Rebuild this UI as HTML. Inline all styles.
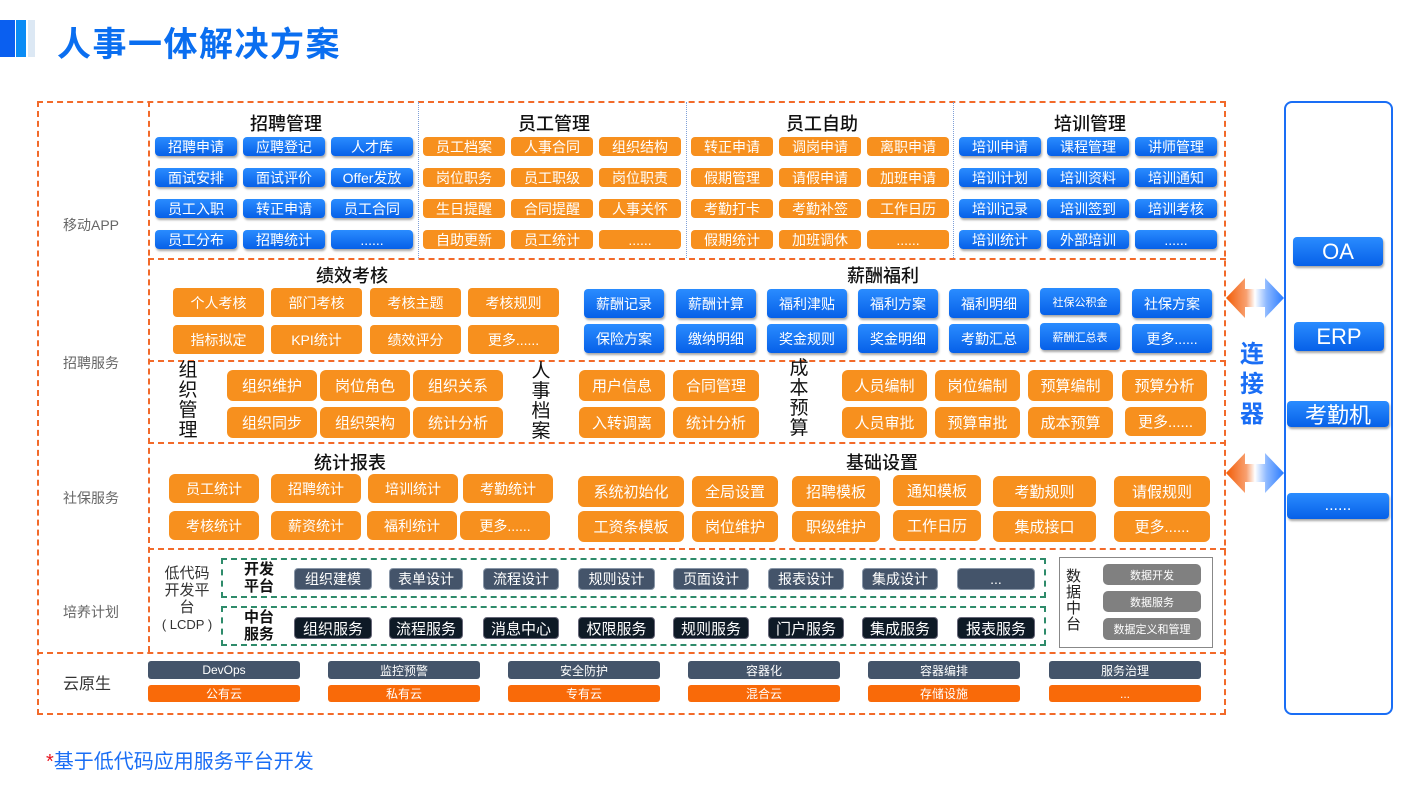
<!DOCTYPE html>
<html><head><meta charset="utf-8"><style>
*{margin:0;padding:0;box-sizing:border-box}
body{width:1420px;height:790px;background:#fff;position:relative;overflow:hidden;font-family:"Liberation Sans","Noto Sans CJK SC",sans-serif}
.a{position:absolute}
.b{position:absolute;display:flex;align-items:center;justify-content:center;color:#fff;white-space:nowrap;border-radius:4px}
.bl{background:linear-gradient(#2a8cff,#0660e8);box-shadow:1px 2px 2px rgba(0,0,0,.35);font-size:14px}
.or{background:#f7901e;font-size:14px}
.dk{background:#44546a;font-size:14px;border:1px solid #8a97a8}
.bk{background:#0e1a26;font-size:15px;border:1px solid #667}
.gr{background:#808080;font-size:11px;border-radius:5px}
.cd{background:#44546a;font-size:12px;border-radius:3px}
.co{background:#f96a09;font-size:12px;border-radius:3px}
.t{position:absolute;font-size:18px;color:#111;white-space:nowrap;transform:translateX(-50%);font-weight:500}
.lab{position:absolute;font-size:14px;color:#666;white-space:nowrap}
.v{position:absolute;font-size:19px;color:#111;line-height:20px;width:22px;text-align:center}
.hd{position:absolute;border-top:2px dashed #f26a2a}
.vd{position:absolute;border-left:2px dashed #f26a2a}
.bd{position:absolute;border-left:1.5px dotted #7fa0d8}
</style></head><body>
<!-- title -->
<div class="a" style="left:0;top:20px;width:15px;height:37px;background:#0a5ff0"></div>
<div class="a" style="left:16px;top:20px;width:10px;height:37px;background:#0a8cf5"></div>
<div class="a" style="left:28px;top:20px;width:7px;height:37px;background:#dce8f4"></div>
<div class="a" style="left:57px;top:17px;font-size:34px;font-weight:bold;color:#0a6ef0;letter-spacing:1.5px">人事一体解决方案</div>

<!-- outer frame -->
<div class="a" style="left:37px;top:101px;width:1189px;height:614px;border:2px dashed #f26a2a"></div>
<div class="vd" style="left:148px;top:101px;height:551px"></div>
<div class="hd" style="left:148px;top:258px;width:1078px"></div>
<div class="hd" style="left:148px;top:360px;width:1078px"></div>
<div class="hd" style="left:148px;top:442px;width:1078px"></div>
<div class="hd" style="left:148px;top:548px;width:1078px"></div>
<div class="hd" style="left:37px;top:652px;width:1189px"></div>
<div class="bd" style="left:418px;top:102px;height:156px"></div>
<div class="bd" style="left:686px;top:102px;height:156px"></div>
<div class="bd" style="left:953px;top:102px;height:156px"></div>

<div class="lab" style="left:63px;top:215px">移动APP</div>
<div class="lab" style="left:63px;top:353px">招聘服务</div>
<div class="lab" style="left:63px;top:488px">社保服务</div>
<div class="lab" style="left:63px;top:602px">培养计划</div>
<div class="lab" style="left:63px;top:670px;font-size:16px;color:#333">云原生</div>

<!-- top section -->
<div class="t" style="left:286px;top:110px">招聘管理</div>
<div class="t" style="left:554px;top:110px">员工管理</div>
<div class="t" style="left:822px;top:110px">员工自助</div>
<div class="t" style="left:1090px;top:110px">培训管理</div>

<div class="b bl" style="left:155px;top:137px;width:82px;height:19px">招聘申请</div>
<div class="b bl" style="left:243px;top:137px;width:82px;height:19px">应聘登记</div>
<div class="b bl" style="left:331px;top:137px;width:82px;height:19px">人才库</div>
<div class="b bl" style="left:155px;top:168px;width:82px;height:19px">面试安排</div>
<div class="b bl" style="left:243px;top:168px;width:82px;height:19px">面试评价</div>
<div class="b bl" style="left:331px;top:168px;width:82px;height:19px">Offer发放</div>
<div class="b bl" style="left:155px;top:199px;width:82px;height:19px">员工入职</div>
<div class="b bl" style="left:243px;top:199px;width:82px;height:19px">转正申请</div>
<div class="b bl" style="left:331px;top:199px;width:82px;height:19px">员工合同</div>
<div class="b bl" style="left:155px;top:230px;width:82px;height:19px">员工分布</div>
<div class="b bl" style="left:243px;top:230px;width:82px;height:19px">招聘统计</div>
<div class="b bl" style="left:331px;top:230px;width:82px;height:19px">......</div>

<div class="b or" style="left:423px;top:137px;width:82px;height:19px">员工档案</div>
<div class="b or" style="left:511px;top:137px;width:82px;height:19px">人事合同</div>
<div class="b or" style="left:599px;top:137px;width:82px;height:19px">组织结构</div>
<div class="b or" style="left:423px;top:168px;width:82px;height:19px">岗位职务</div>
<div class="b or" style="left:511px;top:168px;width:82px;height:19px">员工职级</div>
<div class="b or" style="left:599px;top:168px;width:82px;height:19px">岗位职责</div>
<div class="b or" style="left:423px;top:199px;width:82px;height:19px">生日提醒</div>
<div class="b or" style="left:511px;top:199px;width:82px;height:19px">合同提醒</div>
<div class="b or" style="left:599px;top:199px;width:82px;height:19px">人事关怀</div>
<div class="b or" style="left:423px;top:230px;width:82px;height:19px">自助更新</div>
<div class="b or" style="left:511px;top:230px;width:82px;height:19px">员工统计</div>
<div class="b or" style="left:599px;top:230px;width:82px;height:19px">......</div>

<div class="b or" style="left:691px;top:137px;width:82px;height:19px">转正申请</div>
<div class="b or" style="left:779px;top:137px;width:82px;height:19px">调岗申请</div>
<div class="b or" style="left:867px;top:137px;width:82px;height:19px">离职申请</div>
<div class="b or" style="left:691px;top:168px;width:82px;height:19px">假期管理</div>
<div class="b or" style="left:779px;top:168px;width:82px;height:19px">请假申请</div>
<div class="b or" style="left:867px;top:168px;width:82px;height:19px">加班申请</div>
<div class="b or" style="left:691px;top:199px;width:82px;height:19px">考勤打卡</div>
<div class="b or" style="left:779px;top:199px;width:82px;height:19px">考勤补签</div>
<div class="b or" style="left:867px;top:199px;width:82px;height:19px">工作日历</div>
<div class="b or" style="left:691px;top:230px;width:82px;height:19px">假期统计</div>
<div class="b or" style="left:779px;top:230px;width:82px;height:19px">加班调休</div>
<div class="b or" style="left:867px;top:230px;width:82px;height:19px">......</div>

<div class="b bl" style="left:959px;top:137px;width:82px;height:19px">培训申请</div>
<div class="b bl" style="left:1047px;top:137px;width:82px;height:19px">课程管理</div>
<div class="b bl" style="left:1135px;top:137px;width:82px;height:19px">讲师管理</div>
<div class="b bl" style="left:959px;top:168px;width:82px;height:19px">培训计划</div>
<div class="b bl" style="left:1047px;top:168px;width:82px;height:19px">培训资料</div>
<div class="b bl" style="left:1135px;top:168px;width:82px;height:19px">培训通知</div>
<div class="b bl" style="left:959px;top:199px;width:82px;height:19px">培训记录</div>
<div class="b bl" style="left:1047px;top:199px;width:82px;height:19px">培训签到</div>
<div class="b bl" style="left:1135px;top:199px;width:82px;height:19px">培训考核</div>
<div class="b bl" style="left:959px;top:230px;width:82px;height:19px">培训统计</div>
<div class="b bl" style="left:1047px;top:230px;width:82px;height:19px">外部培训</div>
<div class="b bl" style="left:1135px;top:230px;width:82px;height:19px">......</div>

<!-- row 2 -->
<div class="t" style="left:352px;top:262px">绩效考核</div>
<div class="b or" style="left:173px;top:288px;width:91px;height:29px">个人考核</div>
<div class="b or" style="left:271px;top:288px;width:91px;height:29px">部门考核</div>
<div class="b or" style="left:370px;top:288px;width:91px;height:29px">考核主题</div>
<div class="b or" style="left:468px;top:288px;width:91px;height:29px">考核规则</div>
<div class="b or" style="left:173px;top:325px;width:91px;height:29px">指标拟定</div>
<div class="b or" style="left:271px;top:325px;width:91px;height:29px">KPI统计</div>
<div class="b or" style="left:370px;top:325px;width:91px;height:29px">绩效评分</div>
<div class="b or" style="left:468px;top:325px;width:91px;height:29px">更多......</div>

<div class="t" style="left:883px;top:262px">薪酬福利</div>
<div class="b bl" style="left:584px;top:289px;width:80px;height:29px">薪酬记录</div>
<div class="b bl" style="left:676px;top:289px;width:80px;height:29px">薪酬计算</div>
<div class="b bl" style="left:767px;top:289px;width:80px;height:29px">福利津贴</div>
<div class="b bl" style="left:858px;top:289px;width:80px;height:29px">福利方案</div>
<div class="b bl" style="left:949px;top:289px;width:80px;height:29px">福利明细</div>
<div class="b bl" style="left:1040px;top:288px;width:80px;height:27px;font-size:11px">社保公积金</div>
<div class="b bl" style="left:1132px;top:289px;width:80px;height:29px">社保方案</div>
<div class="b bl" style="left:584px;top:324px;width:80px;height:29px">保险方案</div>
<div class="b bl" style="left:676px;top:324px;width:80px;height:29px">缴纳明细</div>
<div class="b bl" style="left:767px;top:324px;width:80px;height:29px">奖金规则</div>
<div class="b bl" style="left:858px;top:324px;width:80px;height:29px">奖金明细</div>
<div class="b bl" style="left:949px;top:324px;width:80px;height:29px">考勤汇总</div>
<div class="b bl" style="left:1040px;top:323px;width:80px;height:27px;font-size:11px">薪酬汇总表</div>
<div class="b bl" style="left:1132px;top:324px;width:80px;height:29px">更多......</div>

<!-- row 3 -->
<div class="v" style="left:177px;top:361px">组织管理</div>
<div class="b or" style="left:227px;top:370px;width:90px;height:31px;border-radius:6px;font-size:15px">组织维护</div>
<div class="b or" style="left:320px;top:370px;width:90px;height:31px;border-radius:6px;font-size:15px">岗位角色</div>
<div class="b or" style="left:413px;top:370px;width:90px;height:31px;border-radius:6px;font-size:15px">组织关系</div>
<div class="b or" style="left:227px;top:407px;width:90px;height:31px;border-radius:6px;font-size:15px">组织同步</div>
<div class="b or" style="left:320px;top:407px;width:90px;height:31px;border-radius:6px;font-size:15px">组织架构</div>
<div class="b or" style="left:413px;top:407px;width:90px;height:31px;border-radius:6px;font-size:15px">统计分析</div>
<div class="v" style="left:530px;top:362px">人事档案</div>
<div class="b or" style="left:579px;top:370px;width:86px;height:31px;border-radius:6px;font-size:15px">用户信息</div>
<div class="b or" style="left:673px;top:370px;width:86px;height:31px;border-radius:6px;font-size:15px">合同管理</div>
<div class="b or" style="left:579px;top:407px;width:86px;height:31px;border-radius:6px;font-size:15px">入转调离</div>
<div class="b or" style="left:673px;top:407px;width:86px;height:31px;border-radius:6px;font-size:15px">统计分析</div>
<div class="v" style="left:788px;top:359px">成本预算</div>
<div class="b or" style="left:842px;top:370px;width:85px;height:31px;border-radius:6px;font-size:15px">人员编制</div>
<div class="b or" style="left:935px;top:370px;width:85px;height:31px;border-radius:6px;font-size:15px">岗位编制</div>
<div class="b or" style="left:1028px;top:370px;width:85px;height:31px;border-radius:6px;font-size:15px">预算编制</div>
<div class="b or" style="left:1122px;top:370px;width:85px;height:31px;border-radius:6px;font-size:15px">预算分析</div>
<div class="b or" style="left:842px;top:407px;width:85px;height:31px;border-radius:6px;font-size:15px">人员审批</div>
<div class="b or" style="left:935px;top:407px;width:85px;height:31px;border-radius:6px;font-size:15px">预算审批</div>
<div class="b or" style="left:1028px;top:407px;width:85px;height:31px;border-radius:6px;font-size:15px">成本预算</div>
<div class="b or" style="left:1125px;top:407px;width:81px;height:29px;border-radius:6px;font-size:15px">更多......</div>

<!-- row 4 -->
<div class="t" style="left:350px;top:449px">统计报表</div>
<div class="b or" style="left:169px;top:474px;width:90px;height:29px;border-radius:6px">员工统计</div>
<div class="b or" style="left:271px;top:474px;width:90px;height:29px;border-radius:6px">招聘统计</div>
<div class="b or" style="left:368px;top:474px;width:90px;height:29px;border-radius:6px">培训统计</div>
<div class="b or" style="left:463px;top:474px;width:90px;height:29px;border-radius:6px">考勤统计</div>
<div class="b or" style="left:169px;top:511px;width:90px;height:29px;border-radius:6px">考核统计</div>
<div class="b or" style="left:271px;top:511px;width:90px;height:29px;border-radius:6px">薪资统计</div>
<div class="b or" style="left:367px;top:511px;width:90px;height:29px;border-radius:6px">福利统计</div>
<div class="b or" style="left:460px;top:511px;width:90px;height:29px;border-radius:6px">更多......</div>

<div class="t" style="left:882px;top:449px">基础设置</div>
<div class="b or" style="left:578px;top:476px;width:106px;height:31px;border-radius:6px;font-size:15px">系统初始化</div>
<div class="b or" style="left:692px;top:476px;width:86px;height:31px;border-radius:6px;font-size:15px">全局设置</div>
<div class="b or" style="left:792px;top:476px;width:88px;height:31px;border-radius:6px;font-size:15px">招聘模板</div>
<div class="b or" style="left:893px;top:475px;width:88px;height:31px;border-radius:6px;font-size:15px">通知模板</div>
<div class="b or" style="left:993px;top:476px;width:103px;height:31px;border-radius:6px;font-size:15px">考勤规则</div>
<div class="b or" style="left:1114px;top:476px;width:96px;height:31px;border-radius:6px;font-size:15px">请假规则</div>
<div class="b or" style="left:578px;top:511px;width:106px;height:31px;border-radius:6px;font-size:15px">工资条模板</div>
<div class="b or" style="left:692px;top:511px;width:86px;height:31px;border-radius:6px;font-size:15px">岗位维护</div>
<div class="b or" style="left:792px;top:511px;width:88px;height:31px;border-radius:6px;font-size:15px">职级维护</div>
<div class="b or" style="left:893px;top:510px;width:88px;height:31px;border-radius:6px;font-size:15px">工作日历</div>
<div class="b or" style="left:993px;top:511px;width:103px;height:31px;border-radius:6px;font-size:15px">集成接口</div>
<div class="b or" style="left:1114px;top:511px;width:96px;height:31px;border-radius:6px;font-size:15px">更多......</div>

<!-- row 5 lowcode -->
<div class="a" style="left:158px;top:565px;width:58px;text-align:center;font-size:15px;line-height:17px;color:#333">低代码<br>开发平<br>台<br><span style="font-size:13px">( LCDP )</span></div>
<div class="a" style="left:221px;top:558px;width:825px;height:40px;border:2px dashed #2e8b6a"></div>
<div class="a" style="left:221px;top:606px;width:825px;height:40px;border:2px dashed #2e8b6a"></div>
<div class="a" style="left:244px;top:561px;font-size:15px;line-height:17px;font-weight:bold;color:#111">开发<br>平台</div>
<div class="a" style="left:244px;top:609px;font-size:15px;line-height:17px;font-weight:bold;color:#111">中台<br>服务</div>
<div class="b dk" style="left:294px;top:568px;width:78px;height:22px">组织建模</div>
<div class="b dk" style="left:389px;top:568px;width:74px;height:22px">表单设计</div>
<div class="b dk" style="left:483px;top:568px;width:76px;height:22px">流程设计</div>
<div class="b dk" style="left:578px;top:568px;width:77px;height:22px">规则设计</div>
<div class="b dk" style="left:673px;top:568px;width:76px;height:22px">页面设计</div>
<div class="b dk" style="left:768px;top:568px;width:76px;height:22px">报表设计</div>
<div class="b dk" style="left:862px;top:568px;width:76px;height:22px">集成设计</div>
<div class="b dk" style="left:957px;top:568px;width:78px;height:22px">...</div>
<div class="b bk" style="left:294px;top:617px;width:78px;height:22px">组织服务</div>
<div class="b bk" style="left:389px;top:617px;width:74px;height:22px">流程服务</div>
<div class="b bk" style="left:483px;top:617px;width:76px;height:22px">消息中心</div>
<div class="b bk" style="left:578px;top:617px;width:77px;height:22px">权限服务</div>
<div class="b bk" style="left:673px;top:617px;width:76px;height:22px">规则服务</div>
<div class="b bk" style="left:768px;top:617px;width:76px;height:22px">门户服务</div>
<div class="b bk" style="left:862px;top:617px;width:76px;height:22px">集成服务</div>
<div class="b bk" style="left:957px;top:617px;width:78px;height:22px">报表服务</div>

<div class="a" style="left:1059px;top:557px;width:154px;height:91px;border:1.5px solid #888"></div>
<div class="a" style="left:1066px;top:569px;font-size:15px;line-height:16px;color:#222;width:16px">数据中台</div>
<div class="b gr" style="left:1103px;top:564px;width:98px;height:21px">数据开发</div>
<div class="b gr" style="left:1103px;top:591px;width:98px;height:21px">数据服务</div>
<div class="b gr" style="left:1103px;top:618px;width:98px;height:22px">数据定义和管理</div>

<!-- cloud -->
<div class="b cd" style="left:148px;top:661px;width:152px;height:18px">DevOps</div>
<div class="b cd" style="left:328px;top:661px;width:152px;height:18px">监控预警</div>
<div class="b cd" style="left:508px;top:661px;width:152px;height:18px">安全防护</div>
<div class="b cd" style="left:688px;top:661px;width:152px;height:18px">容器化</div>
<div class="b cd" style="left:868px;top:661px;width:152px;height:18px">容器编排</div>
<div class="b cd" style="left:1049px;top:661px;width:152px;height:18px">服务治理</div>
<div class="b co" style="left:148px;top:685px;width:152px;height:17px">公有云</div>
<div class="b co" style="left:328px;top:685px;width:152px;height:17px">私有云</div>
<div class="b co" style="left:508px;top:685px;width:152px;height:17px">专有云</div>
<div class="b co" style="left:688px;top:685px;width:152px;height:17px">混合云</div>
<div class="b co" style="left:868px;top:685px;width:152px;height:17px">存储设施</div>
<div class="b co" style="left:1049px;top:685px;width:152px;height:17px">...</div>

<!-- right -->
<div class="a" style="left:1284px;top:101px;width:109px;height:614px;border:2px solid #1a6ef5;border-radius:8px"></div>
<div class="b bl" style="left:1293px;top:237px;width:90px;height:29px;font-size:22px">OA</div>
<div class="b bl" style="left:1294px;top:322px;width:90px;height:29px;font-size:22px">ERP</div>
<div class="b bl" style="left:1287px;top:401px;width:102px;height:26px;font-size:22px">考勤机</div>
<div class="b bl" style="left:1287px;top:493px;width:102px;height:26px;font-size:16px">......</div>
<div class="a" style="left:1240px;top:340px;font-size:24px;line-height:30px;font-weight:bold;color:#1a6ef5;width:28px">连接器</div>

<svg class="a" style="left:1226px;top:278px" width="58" height="40" viewBox="0 0 58 40">
<defs><linearGradient id="g" x1="0" x2="1"><stop offset="0" stop-color="#f25c05"/><stop offset=".35" stop-color="#f8a070"/><stop offset=".5" stop-color="#fff"/><stop offset=".7" stop-color="#8cb8ff"/><stop offset="1" stop-color="#2a7bff"/></linearGradient></defs>
<polygon points="0,20 19,0 19,11 39,11 39,0 58,20 39,40 39,29 19,29 19,40" fill="url(#g)"/></svg>
<svg class="a" style="left:1226px;top:453px" width="58" height="40" viewBox="0 0 58 40">
<polygon points="0,20 19,0 19,11 39,11 39,0 58,20 39,40 39,29 19,29 19,40" fill="url(#g)"/></svg>

<div class="a" style="left:46px;top:745px;font-size:20px;color:#1a6ef5"><span style="color:#e8141e">*</span>基于低代码应用服务平台开发</div>
</body></html>
